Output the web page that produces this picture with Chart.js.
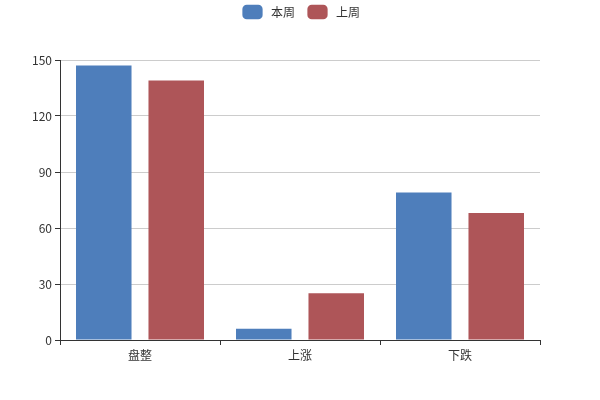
<!DOCTYPE html>
<html><head><meta charset="utf-8">
<script src="https://cdn.jsdelivr.net/npm/chart.js@4"></script>
<style>html,body{margin:0;padding:0;background:#fff}</style>
</head><body><canvas id="c" width="600" height="400"></canvas>
<script>
const categories = ['盘整', '上涨', '下跌'];
const thisWeek = [147, 6, 79];
const lastWeek = [139, 25, 68];
const seriesNames = ['本周', '上周'];
const yTicks = [0, 30, 60, 90, 120, 150];

const FONT = '"Noto Sans CJK SC", "Noto Sans", sans-serif';
Chart.defaults.font.family = FONT;
Chart.defaults.font.size = 12;
Chart.defaults.color = '#333';

const legendHeightFix = {
  id: 'legendHeightFix',
  beforeLayout(chart) {
    const l = chart.legend;
    if (l && !l._patched) {
      const f = l.fit;
      l.fit = function () { f.call(this); this.height = 64; };
      l._patched = true;
    }
  }
};

new Chart(document.getElementById('c'), {
  type: 'bar',
  data: {
    labels: categories,
    datasets: [
      { label: seriesNames[0], data: thisWeek, backgroundColor: '#4e7ebb', borderWidth: 0 },
      { label: seriesNames[1], data: lastWeek, backgroundColor: '#ae5558', borderWidth: 0 }
    ]
  },
  options: {
    responsive: false,
    animation: false,
    devicePixelRatio: 1,
    categoryPercentage: 0.906,
    barPercentage: 0.766,
    layout: { padding: { top: -4, left: 0, right: 0, bottom: 0 } },
    plugins: {
      tooltip: { enabled: false },
      legend: {
        position: 'top',
        labels: {
          usePointStyle: true,
          pointStyle: 'rectRounded',
          pointStyleWidth: 25,
          boxHeight: 14,
          padding: 10,
          color: '#333',
          font: { size: 12, family: FONT }
        }
      }
    },
    scales: {
      x: {
        grid: { display: true, drawOnChartArea: false, offset: true, tickLength: 5, tickColor: '#333' },
        border: { color: '#333' },
        ticks: { color: '#333', padding: 3 },
        afterFit: s => { s.height = 60; }
      },
      y: {
        min: 0, max: 150,
        afterBuildTicks: s => { s.ticks = yTicks.map(v => ({ value: v })); },
        grid: { color: '#ccc', tickLength: 5, tickColor: '#333' },
        border: { color: '#333' },
        ticks: { color: '#333', padding: 3, autoSkip: false },
        afterFit: s => { s.width = 60; }
      },
      yr: {
        position: 'right',
        display: true,
        grid: { display: false, drawOnChartArea: false },
        border: { display: false },
        ticks: { display: false },
        afterFit: s => { s.width = 60; }
      }
    }
  },
  plugins: [legendHeightFix]
});
</script></body></html>
